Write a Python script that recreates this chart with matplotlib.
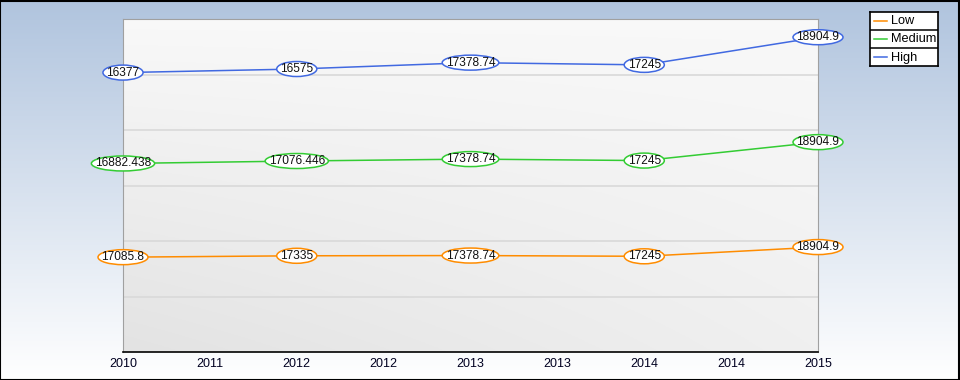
import numpy as np
import matplotlib
matplotlib.use("Agg")
import matplotlib.pyplot as plt
from matplotlib.patches import Ellipse
from matplotlib.transforms import IdentityTransform

plt.rcParams['font.family'] = ['Liberation Sans', 'DejaVu Sans']

tick_labels = ["2010", "2011", "2012", "2012", "2013", "2013", "2014", "2014", "2015"]
point_pos = [0, 2, 4, 6, 8]
series_names = ["Low", "Medium", "High"]
low = [17085.8, 17335, 17378.74, 17245, 18904.9]
medium = [16882.438, 17076.446, 17378.74, 17245, 18904.9]
high = [16377, 16575, 17378.74, 17245, 18904.9]
label_text = {
    "Low": ["17085.8", "17335", "17378.74", "17245", "18904.9"],
    "Medium": ["16882.438", "17076.446", "17378.74", "17245", "18904.9"],
    "High": ["16377", "16575", "17378.74", "17245", "18904.9"],
}
colors = {"Low": "#ff8c00", "Medium": "#33cc33", "High": "#4169e1"}

W, H = 960, 380
fig = plt.figure(figsize=(W / 100, H / 100), dpi=100)

# figure background gradient
bg = fig.add_axes([0, 0, 1, 1], zorder=-10)
top = np.array([176, 196, 222]) / 255
bot = np.array([255, 255, 255]) / 255
t = np.linspace(0, 1, 256)[:, None]
grad = top[None, :] * (1 - t) + bot[None, :] * t
bg.imshow(grad[:, None, :].repeat(2, axis=1), aspect='auto', extent=[0, 1, 0, 1])
bg.set_xlim(0, 1); bg.set_ylim(0, 1)
bg.axis('off')
bg.add_patch(plt.Rectangle((0.0005, 0.001), 0.998, 0.997, fill=False, ec='black', lw=1.5,
                           transform=bg.transAxes))

ax = fig.add_axes([123 / W, 1 - 352 / H, (818 - 123) / W, (352 - 19) / H])
ax.set_facecolor('none')

# cumulative stacking
cum_low = np.array(low)
cum_med = cum_low + np.array(medium)
cum_high = cum_med + np.array(high)
ymax = 60000
ax.set_xlim(0, 8)
ax.set_ylim(0, ymax)
ax.set_autoscale_on(False)

# plot-area gradient (light top/right, darker bottom-left)
yy, xx = np.mgrid[0:1:200j, 0:1:200j]
val = 0.975 - 0.085 * yy * (1 - 0.6 * xx)
ax.imshow(np.dstack([val, val, val]), aspect='auto', extent=[0, 8, 0, ymax], zorder=0,
          origin='upper')
ax.set_ylim(0, ymax)

for g in range(10000, 60000, 10000):
    ax.axhline(g, color='#d9d9d9', lw=1.2, zorder=1)

texts = []
for name, ys in zip(series_names, [cum_low, cum_med, cum_high]):
    c = colors[name]
    ax.plot(point_pos, ys, color=c, lw=1.1, zorder=3, clip_on=False)
    for x, y, s in zip(point_pos, ys, label_text[name]):
        tx = ax.text(x, y, s, ha='center', va='center', fontsize=8.6, color='#111111', zorder=6,
                     clip_on=False)
        texts.append((tx, x, y, c))

ax.set_xticks(range(len(tick_labels)))
ax.set_xticklabels(tick_labels, fontsize=9, color='#000020')
ax.tick_params(axis='x', length=0, pad=4)
ax.set_yticks([])
for side in ['left', 'top', 'right']:
    ax.spines[side].set_color('#a0a0a0')
ax.spines['bottom'].set_color('black')
ax.spines['bottom'].set_linewidth(1.2)

# ellipses around labels
fig.canvas.draw()
renderer = fig.canvas.get_renderer()
for tx, x, y, c in texts:
    bb = tx.get_window_extent(renderer)
    cx, cy = ax.transData.transform((x, y))
    e = Ellipse((cx, cy), bb.width + 7, 15, transform=IdentityTransform(), fc='white', ec=c,
                lw=1.1, zorder=5, clip_on=False)
    ax.add_patch(e)

# manual legend
lx0, ly0, lw_, lh_ = 870, 12, 68, 54
lg = fig.add_axes([lx0 / W, 1 - (ly0 + lh_) / H, lw_ / W, lh_ / H])
lg.set_xlim(0, lw_); lg.set_ylim(lh_, 0)
lg.set_xticks([]); lg.set_yticks([])
lg.set_facecolor('white')
for sp in lg.spines.values():
    sp.set_color('black'); sp.set_linewidth(1.2)
row_h = lh_ / 3
for i, name in enumerate(series_names):
    yc = row_h * i + row_h / 2
    lg.plot([4, 17], [yc, yc], color=colors[name], lw=1.1)
    lg.text(21, yc + 0.5, name, ha='left', va='center', fontsize=9.2, color='black')
    if i > 0:
        lg.axhline(row_h * i, color='black', lw=1.1)

fig.savefig('out.png', dpi=100)
